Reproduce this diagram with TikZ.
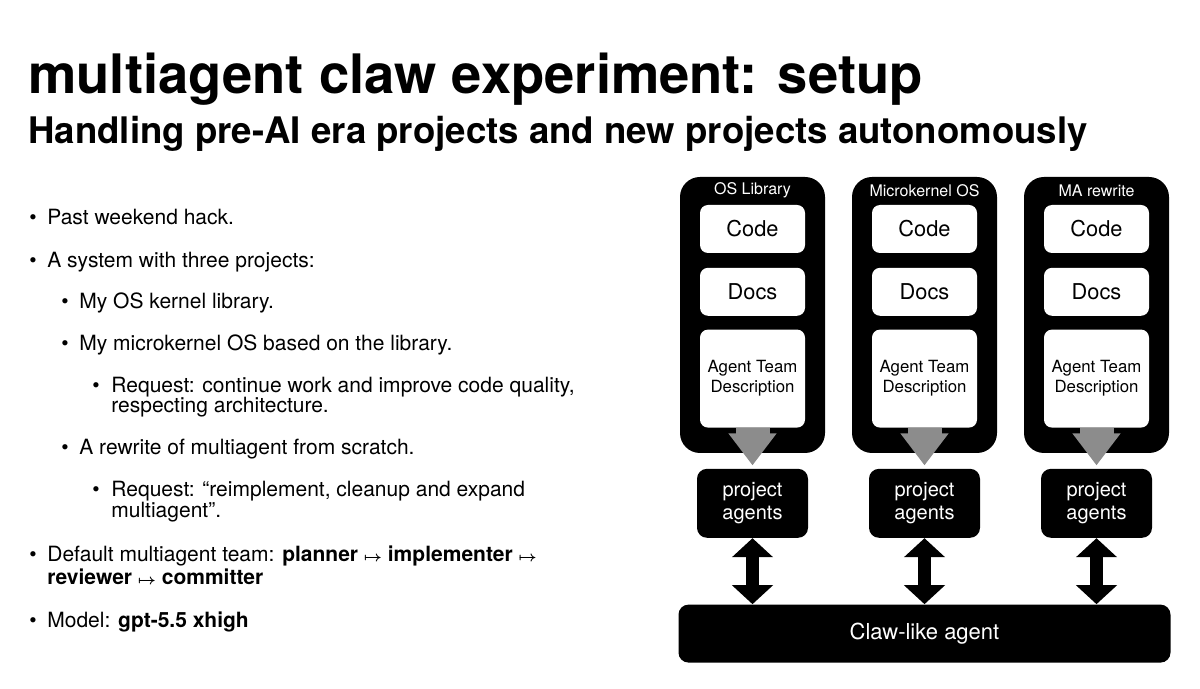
\documentclass[tikz,border=0pt]{standalone}
\usepackage{fontspec}
\setmainfont{TeX Gyre Heros}
\usetikzlibrary{arrows.meta,positioning,calc}

\tikzset{
  colbox/.style={fill=black,rounded corners=10pt,minimum width=72.5pt,minimum height=138pt,inner sep=0pt},
  coltitle/.style={text=white,inner sep=0pt,font=\fontsize{8}{9}\selectfont},
  part/.style={fill=white,rounded corners=4pt,minimum width=52.5pt,minimum height=24pt,inner sep=0pt,align=center,font=\fontsize{10.9}{12}\selectfont},
  agents/.style={fill=black,text=white,rounded corners=5pt,minimum width=55.5pt,minimum height=34.5pt,inner sep=0pt,align=center,font=\fontsize{10}{11.5}\selectfont},
  claw/.style={fill=black,text=white,rounded corners=5pt,minimum width=246pt,minimum height=29pt,inner sep=0pt,font=\fontsize{11}{13}\selectfont},
  feed/.style={draw=black!45,line width=17pt,-{Triangle[width=23pt,length=16pt]}},
  link/.style={draw=black,line width=6.5pt,{Triangle[width=20pt,length=9.5pt]}-{Triangle[width=20pt,length=9.5pt]}},
  headline/.style={anchor=base west,inner sep=0pt,font=\fontsize{27.2}{30}\selectfont\bfseries},
  subline/.style={anchor=base west,inner sep=0pt,font=\fontsize{18.3}{21}\selectfont\bfseries},
  itemtext/.style={anchor=base west,inner sep=0pt,font=\fontsize{10.5}{13}\selectfont},
  dot/.style={anchor=base,inner sep=0pt,font=\fontsize{10.5}{13}\selectfont},
}
\newcommand{\maparrow}{{\boldmath$\scriptstyle\mapsto$}}

\begin{document}
\begin{tikzpicture}[x=0.5pt,y=-0.5pt]
  \fill[white] (0,0) rectangle (1200,689);
  \useasboundingbox (0,0) rectangle (1200,689);

  % headings
  \node[headline] (title) at (28,94) {multiagent claw experiment: setup};
  \node[subline] (subtitle) at (28,144) {Handling pre-AI era projects and new projects autonomously};

  % bullet list
  \foreach \bx/\by [count=\k] in {33/225,33/268,65/309,65/351,96/393,65/455,96/497,33/561,33/627}
    \node[dot] (dot\k) at (\bx,\by) {\textbullet};
  \node[itemtext] (t1) at (47,225) {Past weekend hack.};
  \node[itemtext] (t2) at (47,268) {A system with three projects:};
  \node[itemtext] (t3) at (79,309) {My OS kernel library.};
  \node[itemtext] (t4) at (79,351) {My microkernel OS based on the library.};
  \node[itemtext] (t5) at (111,393) {Request: continue work and improve code quality,};
  \node[itemtext] (t5b) at (111,413) {respecting architecture.};
  \node[itemtext] (t6) at (79,455) {A rewrite of multiagent from scratch.};
  \node[itemtext] (t7) at (111,497) {Request: “reimplement, cleanup and expand};
  \node[itemtext] (t7b) at (111,518) {multiagent”.};
  \node[itemtext] (t8) at (47,561) {Default multiagent team: \textbf{planner \maparrow{} implementer \maparrow}};
  \node[itemtext] (t8b) at (47,584) {\textbf{reviewer \maparrow{} committer}};
  \node[itemtext] (t9) at (47,627) {Model: \textbf{gpt-5.5 xhigh}};

  % project columns
  \foreach \nm/\ttl [count=\i from 0] in {lib/OS Library,mk/Microkernel OS,ma/MA rewrite}{
    \node[colbox] (\nm) at (752.5+172*\i,315) {};
    \node[coltitle] (\nm T) at ([yshift=-7pt]\nm.north) {\ttl};
    \node[part,below=14pt of \nm.north] (\nm C) {Code};
    \node[part,below=7pt of \nm C] (\nm D) {Docs};
    \node[part,minimum height=49pt,font=\fontsize{8.4}{10}\selectfont,below=6.5pt of \nm D] (\nm A) {Agent Team\\Description};
    \node[agents,below=7.5pt of \nm] (\nm P) {project\\agents};
    \draw[feed] (\nm A.south) -- ([yshift=1.5pt]\nm P.north);
  }

  \node[claw,below=33pt of mkP] (claw) {Claw-like agent};
  \foreach \nm in {lib,mk,ma}
    \draw[link] (\nm P.south) -- (\nm P.south |- claw.north);
\end{tikzpicture}
\end{document}
